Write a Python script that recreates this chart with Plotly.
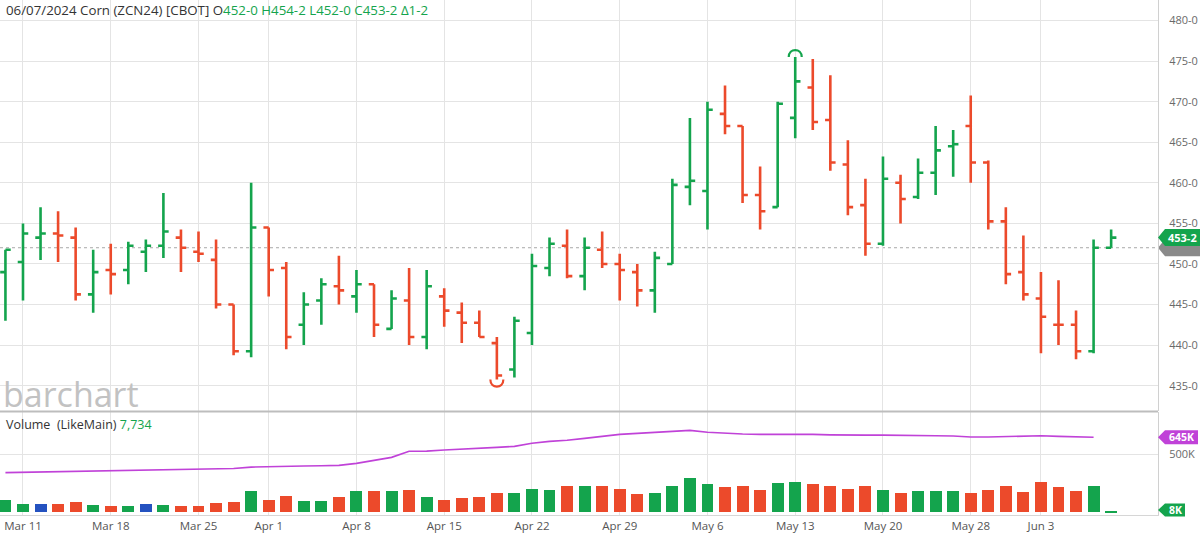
import plotly.graph_objects as go

# ---------------- data ----------------
dates = ["Mar 8", "Mar 11", "Mar 12", "Mar 13", "Mar 14", "Mar 15",
         "Mar 18", "Mar 19", "Mar 20", "Mar 21", "Mar 22",
         "Mar 25", "Mar 26", "Mar 27", "Mar 28",
         "Apr 1", "Apr 2", "Apr 3", "Apr 4", "Apr 5",
         "Apr 8", "Apr 9", "Apr 10", "Apr 11", "Apr 12",
         "Apr 15", "Apr 16", "Apr 17", "Apr 18", "Apr 19",
         "Apr 22", "Apr 23", "Apr 24", "Apr 25", "Apr 26",
         "Apr 29", "Apr 30", "May 1", "May 2", "May 3",
         "May 6", "May 7", "May 8", "May 9", "May 10",
         "May 13", "May 14", "May 15", "May 16", "May 17",
         "May 20", "May 21", "May 22", "May 23", "May 24",
         "May 28", "May 29", "May 30", "May 31",
         "Jun 3", "Jun 4", "Jun 5", "Jun 6", "Jun 7"]

opens = [449.0, 450.25, 453.25, 453.75, 453.25, 446.25,
         449.25, 449.25, 451.5, 452.25, 453.25,
         451.5, 450.5, 445.0, 439.25,
         454.5, 449.5, 442.5, 445.5, 447.25,
         446.0, 447.5, 442.0, 445.5, 441.0,
         446.0, 444.0, 442.75, 440.25, 437.0,
         441.5, 449.5, 452.25, 448.5, 451.75,
         450.0, 449.0, 446.75, 450.0, 459.5,
         459.0, 468.5, 467.0, 458.5, 457.0,
         468.0, 471.75, 467.75, 462.25, 457.25,
         452.5, 460.0, 458.25, 461.25, 464.5,
         467.0, 462.5, 455.25, 449.0,
         445.75, 442.5, 442.5, 439.25, 452.0]
highs = [451.75, 455.0, 457.0, 456.5, 454.5, 451.75,
         452.5, 452.75, 453.0, 458.75, 454.25,
         454.0, 453.0, 445.0, 460.0,
         454.5, 450.25, 446.5, 448.25, 451.0,
         449.25, 447.5, 446.75, 449.5, 449.25,
         447.0, 445.25, 444.25, 441.0, 443.5,
         451.25, 453.25, 454.25, 453.25, 454.0,
         451.25, 450.0, 451.5, 460.5, 468.0,
         470.0, 472.0, 467.0, 462.0, 470.0,
         475.5, 475.25, 473.25, 465.25, 460.5,
         463.25, 461.0, 463.0, 467.0, 466.5,
         470.75, 462.75, 457.0, 453.5,
         449.0, 448.0, 444.25, 453.0, 454.25]
lows = [443.0, 445.5, 450.5, 450.25, 445.5, 444.0,
        446.25, 447.5, 449.0, 450.75, 449.0,
        450.25, 444.5, 438.75, 438.5,
        446.0, 439.5, 440.0, 442.5, 445.0,
        444.0, 441.0, 442.0, 440.0, 439.5,
        442.25, 440.25, 441.0, 435.75, 436.0,
        440.0, 448.5, 448.25, 446.75, 449.5,
        445.5, 444.75, 444.0, 450.0, 457.25,
        454.25, 466.0, 457.5, 454.25, 457.0,
        465.5, 466.5, 461.5, 456.0, 451.0,
        452.25, 455.0, 458.0, 458.5, 460.75,
        460.0, 454.25, 447.5, 445.5,
        439.0, 440.0, 438.25, 439.0, 452.0]
closes = [451.75, 453.75, 453.75, 453.5, 446.25, 449.0,
          448.75, 452.25, 452.25, 454.0, 452.0,
          451.25, 445.0, 439.25, 454.5,
          449.25, 441.0, 445.0, 447.5, 446.75,
          447.5, 442.5, 445.75, 441.0, 447.25,
          444.25, 442.75, 441.0, 436.25, 443.0,
          449.75, 452.5, 448.5, 452.0, 450.0,
          449.25, 446.75, 450.75, 459.75, 460.25,
          469.0, 467.0, 458.5, 456.5, 469.75,
          472.5, 467.5, 462.5, 457.0, 452.5,
          460.5, 458.0, 461.25, 464.0, 464.75,
          462.5, 455.25, 448.75, 446.25,
          443.5, 442.5, 439.25, 452.0, 453.25]

# volume in thousands of contracts
volume_k = [109, 72, 72, 72, 86, 66,
            55, 55, 70, 66, 57,
            57, 80, 89, 181,
            106, 144, 100, 95, 130,
            180, 180, 180, 190, 130,
            110, 120, 130, 170, 165,
            205, 190, 225, 230, 225,
            205, 155, 165, 230, 300,
            240, 215, 225, 190, 250,
            265, 240, 225, 205, 225,
            190, 170, 180, 180, 180,
            170, 190, 223, 172,
            261, 218, 184, 230, 7.734]

# purple average line (thousands), through Jun 6
avg_k = [342, 345, 348, 352, 356, 358,
         360, 361, 363, 366, 368,
         372, 375, 378, 390,
         395, 398, 400, 401, 405,
         422, 450, 474, 526, 528,
         537, 543, 552, 560, 569,
         595, 612, 621, 638, 655,
         672, 681, 690, 698, 707,
         690, 681, 675, 672, 672,
         675, 672, 668, 664, 666,
         666, 666, 664, 660, 658,
         650, 650, 652, 652,
         660, 655, 648, 647]

tick_dates = ["Mar 11", "Mar 18", "Mar 25", "Apr 1", "Apr 8", "Apr 15", "Apr 22",
              "Apr 29", "May 6", "May 13", "May 20", "May 28", "Jun 3"]
price_ticks = [435, 440, 445, 450, 455, 460, 465, 470, 475, 480]

# ---------------- styles ----------------
GREEN = "#14a44d"
RED = "#ec4a2b"
BLUE = "#2452c0"
PURPLE = "#c042d8"
GRID = "#e4e4e4"
FONT = "Open Sans"

W, H = 1158.0, 515.0          # plot area pixels
MAIN_DOM = [104.0 / 515, 1.0]
VOL_DOM = [0.0, 103.0 / 515]
PRICE_RANGE = [431.88, 482.53]
VOL_RANGE = [-23, 865]

idx = list(range(len(dates)))
X_RANGE = [-0.31, 65.67]

def fmt_price(p):
    whole = int(p)
    eighths = int(round((p - whole) * 8))
    return f"{whole}-{eighths}"

def py_main(p):
    return MAIN_DOM[0] + (p - PRICE_RANGE[0]) / (PRICE_RANGE[1] - PRICE_RANGE[0]) * (MAIN_DOM[1] - MAIN_DOM[0])

def py_vol(v):
    return VOL_DOM[0] + (v - VOL_RANGE[0]) / (VOL_RANGE[1] - VOL_RANGE[0]) * (VOL_DOM[1] - VOL_DOM[0])

# direction vs previous close
up = [True] + [closes[i] >= closes[i - 1] for i in range(1, len(closes))]
vol_colors = [GREEN]
for i in range(1, len(closes)):
    if closes[i] > closes[i - 1]:
        vol_colors.append(GREEN)
    elif closes[i] < closes[i - 1]:
        vol_colors.append(RED)
    else:
        vol_colors.append(BLUE)

fig = go.Figure()

for flag, col in [(True, GREEN), (False, RED)]:
    sel = [i for i in idx if up[i] == flag]
    fig.add_trace(go.Ohlc(
        x=sel,
        open=[opens[i] for i in sel], high=[highs[i] for i in sel],
        low=[lows[i] for i in sel], close=[closes[i] for i in sel],
        increasing=dict(line=dict(color=col, width=2.6)),
        decreasing=dict(line=dict(color=col, width=2.6)),
        tickwidth=0.3, xaxis="x", yaxis="y", hoverinfo="skip",
    ))

fig.add_trace(go.Bar(x=idx, y=volume_k, marker=dict(color=vol_colors, line=dict(width=0)),
                     width=0.68, xaxis="x", yaxis="y2", hoverinfo="skip"))
fig.add_trace(go.Scatter(x=idx[:len(avg_k)], y=avg_k, mode="lines",
                         line=dict(color=PURPLE, width=1.6), xaxis="x", yaxis="y2",
                         hoverinfo="skip"))

# previous-close label text (sits under the last-price flag)
px_per_x = W / (X_RANGE[1] - X_RANGE[0])
fig.add_trace(go.Scatter(x=[X_RANGE[1] + 24.5 / px_per_x], y=[closes[-2]], mode="text",
                         text=[f"<b>{fmt_price(closes[-2])}</b>"],
                         textfont=dict(color="white", size=11, family=FONT),
                         cliponaxis=False, xaxis="x", yaxis="y", hoverinfo="skip"))

shapes = []
annotations = []

# previous close dotted line
shapes.append(dict(type="line", xref="x", yref="y", x0=X_RANGE[0], x1=X_RANGE[1],
                   y0=closes[-2], y1=closes[-2], line=dict(color="#a8a8a8", width=1, dash="dot"),
                   layer="below"))

# panel separator
shapes.append(dict(type="line", xref="paper", yref="paper", x0=0, x1=1,
                   y0=(H - 411.5) / H, y1=(H - 411.5) / H, line=dict(color="#bdbdbd", width=2)))

# high / low arcs
hi_i = max(idx, key=lambda i: highs[i])
lo_i = min(idx, key=lambda i: lows[i])
rx = 6.5 / px_per_x
ry_unit = (MAIN_DOM[1] - MAIN_DOM[0]) * H / (PRICE_RANGE[1] - PRICE_RANGE[0])
ry = 7.0 / ry_unit
k = 4.0 / 3.0
hx, hy = hi_i, highs[hi_i]
shapes.append(dict(type="path", xref="x", yref="y",
                   path=f"M {hx - rx},{hy} C {hx - rx},{hy + k * ry} {hx + rx},{hy + k * ry} {hx + rx},{hy}",
                   line=dict(color=GREEN if up[hi_i] else RED, width=2.2)))
lx, ly = lo_i, lows[lo_i]
shapes.append(dict(type="path", xref="x", yref="y",
                   path=f"M {lx - rx},{ly} C {lx - rx},{ly - k * ry} {lx + rx},{ly - k * ry} {lx + rx},{ly}",
                   line=dict(color=GREEN if up[lo_i] else RED, width=2.2)))

def flag_path(yc, h_px, w_px):
    h = h_px / 2.0 / H
    return (f"M 1,{yc} L {1 + 7 / W},{yc + h} L {1 + w_px / W},{yc + h} "
            f"L {1 + w_px / W},{yc - h} L {1 + 7 / W},{yc - h} Z")

# previous close flag (gray, below)
shapes.append(dict(type="path", xref="paper", yref="paper", layer="below",
                   path=flag_path(py_main(closes[-2]), 17, 42),
                   fillcolor="#8a8a8a", line=dict(width=0)))
# last price flag (green, above)
shapes.append(dict(type="path", xref="paper", yref="paper", layer="above",
                   path=flag_path(py_main(closes[-1]), 17, 42),
                   fillcolor=GREEN, line=dict(width=0)))
annotations.append(dict(xref="paper", yref="paper", x=1 + 24.5 / W, y=py_main(closes[-1]),
                        text=f"<b>{fmt_price(closes[-1])}</b>", showarrow=False,
                        font=dict(color="white", size=11, family=FONT), xanchor="center", yanchor="middle"))

# average flag (purple)
shapes.append(dict(type="path", xref="paper", yref="paper", layer="above",
                   path=flag_path(py_vol(avg_k[-1]), 14, 40),
                   fillcolor=PURPLE, line=dict(width=0)))
annotations.append(dict(xref="paper", yref="paper", x=1 + 23.5 / W, y=py_vol(avg_k[-1]),
                        text=f"<b>{round(avg_k[-1] - 2)}K</b>", showarrow=False,
                        font=dict(color="white", size=10.5, family=FONT), xanchor="center", yanchor="middle"))
# last volume flag (green)
shapes.append(dict(type="path", xref="paper", yref="paper", layer="above",
                   path=flag_path(py_vol(volume_k[-1]) + 1.5 / H, 13, 27),
                   fillcolor=GREEN, line=dict(width=0)))
annotations.append(dict(xref="paper", yref="paper", x=1 + 17 / W, y=py_vol(volume_k[-1]) + 1.5 / H,
                        text=f"<b>{round(volume_k[-1])}K</b>", showarrow=False,
                        font=dict(color="white", size=10.5, family=FONT), xanchor="center", yanchor="middle"))

# title line
g = lambda s: f"<span style='color:{GREEN}'>{s}</span>"
title = ("06/07/2024 Corn (ZCN24) [CBOT] O" + g(fmt_price(opens[-1])) + " " +
         g("H" + fmt_price(highs[-1])) + " " + g("L" + fmt_price(lows[-1])) + " " +
         g("C" + fmt_price(closes[-1])) + " " + g("Δ" + fmt_price(closes[-1] - closes[-2])))
annotations.append(dict(xref="paper", yref="paper", x=4 / W, y=1 - 10 / H, text=title,
                        showarrow=False, xanchor="left", yanchor="middle",
                        font=dict(color="#333333", size=13.3, family=FONT)))
# volume title
annotations.append(dict(xref="paper", yref="paper", x=4 / W, y=(H - 424) / H,
                        text="Volume&nbsp;&nbsp;(LikeMain) " + g(f"{volume_k[-1] * 1000:,.0f}"),
                        showarrow=False, xanchor="left", yanchor="middle",
                        font=dict(color="#333333", size=12.5, family=FONT)))
# watermark
annotations.append(dict(xref="paper", yref="paper", x=1 / W, y=(H - 394) / H, text="barchart",
                        showarrow=False, xanchor="left", yanchor="middle",
                        font=dict(color="#c2c2c2", size=34, family=FONT)))

fig.update_layout(
    width=1200, height=540,
    margin=dict(l=0, r=42, t=0, b=25),
    paper_bgcolor="white", plot_bgcolor="white",
    showlegend=False, bargap=0,
    font=dict(family=FONT, color="#555555"),
    xaxis=dict(domain=[0, 1], anchor="y2", range=X_RANGE,
               tickmode="array", tickvals=[dates.index(d) for d in tick_dates], ticktext=tick_dates,
               showgrid=True, gridcolor=GRID, gridwidth=1, zeroline=False,
               showline=True, linecolor="#d6d6d6", linewidth=1, ticks="",
               tickfont=dict(size=11.5, color="#555555", family=FONT),
               rangeslider=dict(visible=False), fixedrange=True),
    yaxis=dict(domain=MAIN_DOM, anchor="x", side="right", range=PRICE_RANGE,
               tickmode="array", tickvals=price_ticks, ticktext=[fmt_price(p) for p in price_ticks],
               showgrid=True, gridcolor=GRID, gridwidth=1, zeroline=False,
               showline=True, linecolor="#d0d0d0", linewidth=1,
               ticks="outside", ticklen=8, tickcolor="rgba(0,0,0,0)",
               tickfont=dict(size=11, color="#6a6a6a", family=FONT)),
    yaxis2=dict(domain=VOL_DOM, anchor="x", side="right", range=VOL_RANGE,
                tickmode="array", tickvals=[500], ticktext=["500K"],
                showgrid=True, gridcolor=GRID, gridwidth=1, zeroline=False,
                showline=True, linecolor="#d0d0d0", linewidth=1,
                ticks="outside", ticklen=8, tickcolor="rgba(0,0,0,0)",
                tickfont=dict(size=11, color="#6a6a6a", family=FONT)),
    shapes=shapes, annotations=annotations,
)

fig.write_html("out.html")
